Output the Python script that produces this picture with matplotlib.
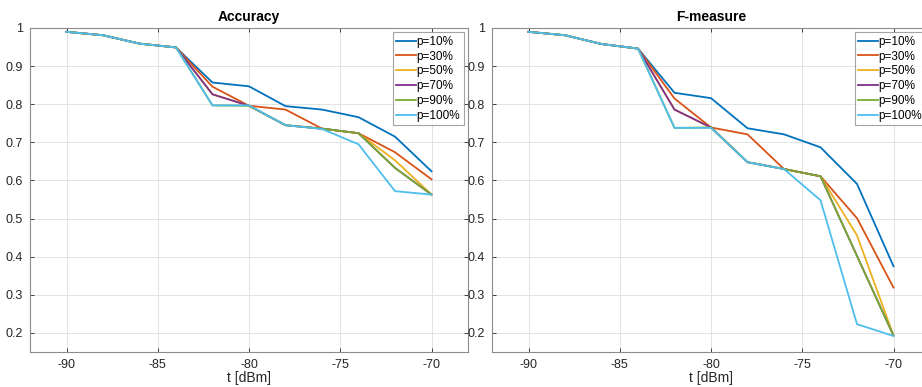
import matplotlib
matplotlib.use('Agg')
import matplotlib.pyplot as plt

plt.rcParams['font.family'] = ['Liberation Sans', 'DejaVu Sans']
plt.rcParams['axes.unicode_minus'] = False

# x axis: threshold in dBm
t = [-90, -88, -86, -84, -82, -80, -78, -76, -74, -72, -70]

labels = ['p=10%', 'p=30%', 'p=50%', 'p=70%', 'p=90%', 'p=100%']
colors = ['#0072BD', '#D95319', '#EDB120', '#7E2F8E', '#77AC30', '#4DBEEE']

head = [0.990, 0.981, 0.959, 0.949]

acc_p10 = head + [0.857, 0.847, 0.795, 0.786, 0.766, 0.715, 0.624]
acc_p30 = head + [0.846, 0.796, 0.786, 0.736, 0.724, 0.674, 0.603]
acc_p50 = head + [0.826, 0.796, 0.745, 0.736, 0.724, 0.653, 0.563]
acc_p70 = head + [0.826, 0.796, 0.745, 0.736, 0.724, 0.633, 0.563]
acc_p90 = head + [0.797, 0.796, 0.745, 0.736, 0.724, 0.633, 0.563]
acc_p100 = head + [0.797, 0.797, 0.745, 0.735, 0.695, 0.572, 0.563]

head_f = [0.990, 0.981, 0.958, 0.946]

f_p10 = head_f + [0.830, 0.816, 0.737, 0.721, 0.687, 0.591, 0.375]
f_p30 = head_f + [0.815, 0.739, 0.721, 0.630, 0.611, 0.501, 0.319]
f_p50 = head_f + [0.786, 0.739, 0.648, 0.630, 0.611, 0.456, 0.193]
f_p70 = head_f + [0.786, 0.739, 0.648, 0.630, 0.611, 0.402, 0.193]
f_p90 = head_f + [0.738, 0.739, 0.648, 0.630, 0.611, 0.402, 0.193]
f_p100 = head_f + [0.738, 0.738, 0.648, 0.630, 0.548, 0.223, 0.192]

acc = [acc_p10, acc_p30, acc_p50, acc_p70, acc_p90, acc_p100]
fmeas = [f_p10, f_p30, f_p50, f_p70, f_p90, f_p100]

fig = plt.figure(figsize=(9.22, 3.87), dpi=100)
W, H = 922, 387
ax1 = fig.add_axes([30 / W, 1 - 352 / H, 438 / W, 324 / H])
ax2 = fig.add_axes([492 / W, 1 - 352 / H, 438 / W, 324 / H])


def draw(ax, series, title):
    for y, lab, c in zip(series, labels, colors):
        ax.plot(t, y, color=c, lw=1.3, label=lab)
    ax.set_xlim(-92, -68)
    ax.set_ylim(0.15, 1.0)
    ax.set_xticks([-90, -85, -80, -75, -70])
    ax.set_yticks([0.2, 0.3, 0.4, 0.5, 0.6, 0.7, 0.8, 0.9, 1.0])
    ax.set_yticklabels(['0.2', '0.3', '0.4', '0.5', '0.6', '0.7', '0.8', '0.9', '1'])
    ax.grid(True, color='#e3e3e3', lw=0.7)
    ax.set_axisbelow(True)
    ax.tick_params(direction='in', length=3, top=True, right=True,
                   labelsize=9, colors='#262626', width=0.6, pad=5)
    for s in ax.spines.values():
        s.set_color('#8c8c8c')
        s.set_linewidth(0.8)
    ax.set_title(title, fontsize=10, fontweight='bold', pad=5)
    ax.set_xlabel('t [dBm]', fontsize=10, color='#262626', labelpad=0)
    leg = ax.legend(loc='upper right', fontsize=8.5, frameon=True, fancybox=False,
                    handlelength=1.7, handletextpad=0.05, labelspacing=0.24,
                    borderpad=0.3, borderaxespad=0.35)
    leg.get_frame().set_edgecolor('#8c8c8c')
    leg.get_frame().set_linewidth(0.8)


draw(ax1, acc, 'Accuracy')
draw(ax2, fmeas, 'F-measure')

fig.savefig('out.png', dpi=100)
